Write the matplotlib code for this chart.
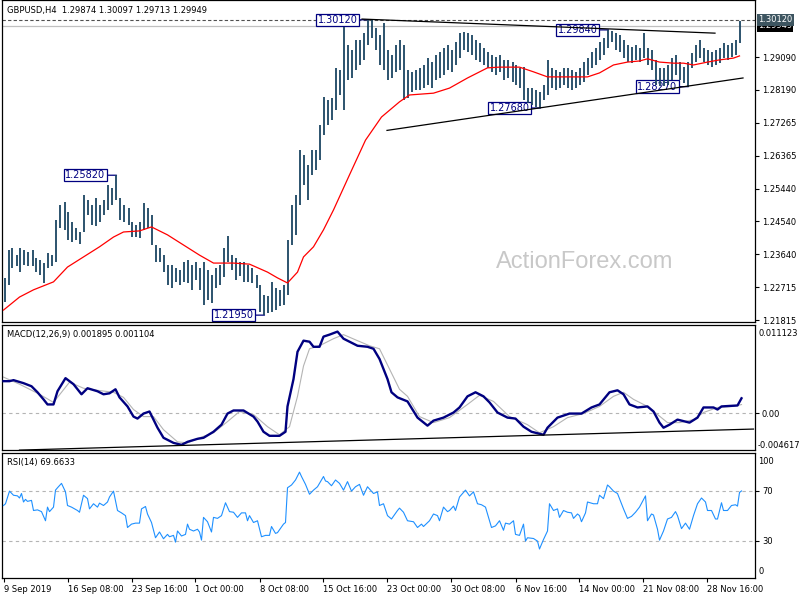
import numpy as np
import matplotlib
matplotlib.use('Agg')
import matplotlib.pyplot as plt
from matplotlib.transforms import blended_transform_factory

plt.rcParams['font.family'] = 'DejaVu Sans'

# price bars, one entry per two H4 candles (8 hours), starting 9 Sep 2019 00:00
bar_hi = [1.2298, 1.2375, 1.2381, 1.2361, 1.2381, 1.2375, 1.2370, 1.2375, 1.2353, 1.2348,
          1.2339, 1.2367, 1.2361, 1.2458, 1.2500, 1.2508, 1.2480, 1.2453, 1.2436, 1.2425,
          1.2527, 1.2514, 1.2500, 1.2519, 1.2500, 1.2514, 1.2555, 1.2547, 1.2582, 1.2519,
          1.2500, 1.2491, 1.2453, 1.2444, 1.2453, 1.2505, 1.2491, 1.2472, 1.2389, 1.2381,
          1.2361, 1.2334, 1.2334, 1.2325, 1.2320, 1.2342, 1.2348, 1.2334, 1.2342, 1.2325,
          1.2342, 1.2320, 1.2306, 1.2325, 1.2334, 1.2381, 1.2414, 1.2361, 1.2353, 1.2342,
          1.2342, 1.2334, 1.2325, 1.2306, 1.2278, 1.2251, 1.2248, 1.2287, 1.2270, 1.2265,
          1.2278, 1.2403, 1.2500, 1.2527, 1.2652, 1.2638, 1.2610, 1.2652, 1.2652, 1.2721,
          1.2798, 1.2790, 1.2796, 1.2879, 1.2873, 1.2992, 1.2942, 1.2928, 1.2956, 1.2956,
          1.2975, 1.3012, 1.3011, 1.2989, 1.2970, 1.3003, 1.2928, 1.2915, 1.2942, 1.2956,
          1.2942, 1.2873, 1.2868, 1.2873, 1.2879, 1.2887, 1.2906, 1.2895, 1.2915, 1.2923,
          1.2934, 1.2942, 1.2928, 1.2951, 1.2975, 1.2978, 1.2975, 1.2970, 1.2956, 1.2948,
          1.2934, 1.2923, 1.2915, 1.2909, 1.2915, 1.2901, 1.2901, 1.2895, 1.2887, 1.2879,
          1.2881, 1.2823, 1.2823, 1.2818, 1.2812, 1.2831, 1.2901, 1.2879, 1.2873, 1.2868,
          1.2879, 1.2879, 1.2873, 1.2868, 1.2879, 1.2895, 1.2906, 1.2923, 1.2934, 1.2951,
          1.2962, 1.2984, 1.2980, 1.2975, 1.2970, 1.2956, 1.2942, 1.2937, 1.2942, 1.2934,
          1.2975, 1.2934, 1.2928, 1.2901, 1.2879, 1.2879, 1.2887, 1.2906, 1.2915, 1.2895,
          1.2881, 1.2895, 1.2920, 1.2942, 1.2956, 1.2934, 1.2928, 1.2923, 1.2928, 1.2934,
          1.2948, 1.2942, 1.2948, 1.2956, 1.30097]
bar_lo = [1.2231, 1.2278, 1.2325, 1.2331, 1.2314, 1.2334, 1.2331, 1.2331, 1.2314, 1.2306,
          1.2284, 1.2325, 1.2331, 1.2342, 1.2436, 1.2431, 1.2403, 1.2397, 1.2403, 1.2392,
          1.2425, 1.2472, 1.2444, 1.2442, 1.2453, 1.2472, 1.2486, 1.2500, 1.2514, 1.2458,
          1.2453, 1.2444, 1.2411, 1.2411, 1.2409, 1.2431, 1.2436, 1.2389, 1.2342, 1.2342,
          1.2314, 1.2278, 1.2270, 1.2287, 1.2278, 1.2287, 1.2284, 1.2265, 1.2292, 1.2265,
          1.2223, 1.2237, 1.2229, 1.2270, 1.2278, 1.2301, 1.2342, 1.2320, 1.2292, 1.2303,
          1.2287, 1.2287, 1.2284, 1.2270, 1.2204, 1.2195, 1.2201, 1.2204, 1.2209, 1.2220,
          1.2223, 1.2251, 1.2389, 1.2417, 1.2500, 1.2555, 1.2514, 1.2583, 1.2596, 1.2624,
          1.2693, 1.2721, 1.2735, 1.2762, 1.2804, 1.2762, 1.2845, 1.2851, 1.2873, 1.2887,
          1.2901, 1.2942, 1.2962, 1.2928, 1.2887, 1.2873, 1.2845, 1.2851, 1.2868, 1.2873,
          1.2790, 1.2796, 1.2812, 1.2818, 1.2818, 1.2823, 1.2831, 1.2823, 1.2845, 1.2851,
          1.2859, 1.2873, 1.2868, 1.2887, 1.2906, 1.2928, 1.2923, 1.2915, 1.2901, 1.2895,
          1.2887, 1.2879, 1.2868, 1.2859, 1.2868, 1.2845, 1.2851, 1.2840, 1.2831, 1.2823,
          1.2790, 1.2782, 1.2776, 1.2771, 1.2768, 1.2790, 1.2804, 1.2823, 1.2818, 1.2823,
          1.2831, 1.2823, 1.2818, 1.2823, 1.2831, 1.2840, 1.2859, 1.2879, 1.2887, 1.2901,
          1.2915, 1.2934, 1.2951, 1.2928, 1.2923, 1.2906, 1.2895, 1.2892, 1.2901, 1.2895,
          1.2906, 1.2887, 1.2873, 1.2831, 1.2829, 1.2829, 1.2831, 1.2845, 1.2859, 1.2845,
          1.2837, 1.2827, 1.2879, 1.2895, 1.2906, 1.2895, 1.2887, 1.2881, 1.2887, 1.2892,
          1.2906, 1.2901, 1.2909, 1.2915, 1.2948]

# moving average (red), H4 bar index -> value
ma_idx = [0, 8, 15, 20, 25, 32, 40, 48, 55, 60, 68, 74, 82, 90, 98, 105, 115, 123, 132,
          137, 142, 147, 150, 155, 160, 165, 173, 181, 189, 198, 203, 215, 223, 232, 242,
          248, 258, 265, 272, 282, 292, 298, 305, 312, 318, 322, 328, 335, 340, 345, 352,
          358, 365, 368]
ma_val = [1.2209, 1.2245, 1.2265, 1.2276, 1.2287, 1.2328, 1.2356, 1.2384, 1.2411, 1.2425,
          1.2428, 1.2439, 1.2417, 1.2389, 1.2361, 1.2339, 1.2339, 1.2336, 1.2314, 1.2298,
          1.2284, 1.2314, 1.2356, 1.2384, 1.2431, 1.2486, 1.2583, 1.2679, 1.2743, 1.2785,
          1.2804, 1.2809, 1.2823, 1.2851, 1.2879, 1.2881, 1.2881, 1.2868, 1.2854, 1.2854,
          1.2854, 1.2865, 1.2887, 1.2895, 1.2898, 1.2904, 1.2895, 1.2892, 1.2892, 1.2887,
          1.2895, 1.2901, 1.2906, 1.2912]

# MACD(12,26,9) main line and signal
macd_idx = [0, 3, 5, 10, 14, 17, 20, 22, 25, 27, 31, 35, 39, 42, 47, 50, 53, 56, 58, 62,
            65, 67, 70, 73, 75, 77, 80, 85, 89, 92, 97, 100, 105, 109, 112, 115, 120, 125,
            127, 130, 133, 138, 141, 142, 145, 147, 150, 153, 155, 158, 160, 163, 167, 170,
            173, 177, 182, 185, 188, 192, 194, 197, 202, 207, 212, 215, 220, 225, 228, 232,
            236, 240, 243, 247, 252, 256, 260, 264, 270, 272, 277, 283, 289, 294, 298, 303,
            307, 310, 313, 317, 322, 325, 328, 330, 333, 337, 343, 347, 350, 355, 357, 359,
            367, 369]
macd_val = [0.00405, 0.00405, 0.00418, 0.00380, 0.00341, 0.00265, 0.00176, 0.00112, 0.00112,
            0.00278, 0.00443, 0.00367, 0.00240, 0.00316, 0.00278, 0.00240, 0.00252, 0.00303,
            0.00201, 0.00087, -0.00041, -0.00066, -0.00003, 0.00023, -0.00079, -0.00181,
            -0.00308, -0.00372, -0.00397, -0.00359, -0.00321, -0.00308, -0.00232, -0.00143,
            -0.00003, 0.00036, 0.00036, -0.00041, -0.00104, -0.00232, -0.00283, -0.00283,
            -0.00232, 0.00087, 0.00431, 0.00775, 0.00915, 0.00902, 0.00838, 0.00838, 0.00966,
            0.00991, 0.01029, 0.00940, 0.00902, 0.00851, 0.00838, 0.00813, 0.00685, 0.00431,
            0.00265, 0.00201, 0.00150, -0.00054, -0.00155, -0.00092, -0.00054, 0.00010,
            0.00074, 0.00214, 0.00265, 0.00214, 0.00138, 0.00010, -0.00054, -0.00066, -0.00168,
            -0.00232, -0.00270, -0.00181, -0.00054, -0.00003, -0.00003, 0.00074, 0.00112,
            0.00265, 0.00290, 0.00240, 0.00112, 0.00074, 0.00087, 0.00023, -0.00117, -0.00181,
            -0.00143, -0.00079, -0.00117, -0.00054, 0.00074, 0.00074, 0.00048, 0.00087,
            0.00099, 0.001895]
sig_idx = [0, 8, 18, 25, 29, 33, 40, 47, 55, 60, 65, 70, 75, 80, 87, 92, 98, 105, 112, 118,
           125, 132, 138, 143, 147, 150, 153, 158, 165, 170, 177, 183, 188, 193, 198, 202,
           208, 215, 223, 232, 238, 245, 253, 262, 268, 275, 282, 290, 298, 305, 310, 315,
           322, 327, 332, 338, 345, 350, 357, 365, 369]
sig_val = [0.00456, 0.00367, 0.00240, 0.00138, 0.00265, 0.00392, 0.00316, 0.00290, 0.00265,
           0.00201, 0.00048, -0.00041, -0.00041, -0.00206, -0.00359, -0.00372, -0.00308,
           -0.00245, -0.00104, 0.00023, -0.00015, -0.00168, -0.00270, -0.00168, 0.00214,
           0.00596, 0.00813, 0.00851, 0.00940, 0.00991, 0.00915, 0.00851, 0.00813, 0.00558,
           0.00303, 0.00214, -0.00041, -0.00117, -0.00054, 0.00112, 0.00227, 0.00150,
           -0.00041, -0.00143, -0.00245, -0.00168, -0.00054, -0.00003, 0.00087, 0.00214,
           0.00265, 0.00176, 0.00087, -0.00015, -0.00117, -0.00117, -0.00079, 0.00010,
           0.00074, 0.00087, 0.001104]

# RSI(14)
rsi_idx = [0, 1, 3, 5, 7, 8, 9, 10, 11, 12, 14, 15, 17, 19, 21, 22, 23, 25, 26, 27, 29, 31,
           32, 34, 37, 38, 40, 42, 43, 45, 47, 48, 50, 52, 53, 55, 57, 59, 61, 62, 64, 66, 68,
           69, 71, 72, 74, 76, 78, 80, 82, 83, 85, 86, 87, 89, 91, 92, 93, 95, 97, 98, 99,
           100, 102, 104, 105, 107, 109, 111, 113, 115, 117, 119, 121, 122, 123, 125, 127,
           129, 131, 133, 134, 136, 137, 140, 141, 142, 144, 146, 148, 149, 151, 153, 155,
           157, 160, 161, 162, 164, 166, 168, 170, 172, 174, 176, 178, 180, 182, 185, 187,
           188, 190, 192, 194, 197, 198, 200, 202, 205, 207, 209, 210, 213, 215, 217, 218,
           220, 222, 223, 225, 226, 228, 231, 233, 235, 237, 239, 241, 244, 246, 248, 250,
           251, 253, 255, 256, 258, 260, 261, 262, 265, 267, 268, 270, 272, 273, 275, 277,
           278, 280, 282, 284, 285, 287, 288, 289, 291, 292, 295, 297, 298, 300, 302, 303,
           305, 307, 310, 312, 314, 316, 318, 321, 322, 324, 325, 327, 328, 330, 332, 334,
           336, 337, 339, 341, 343, 345, 347, 349, 351, 352, 354, 356, 357, 359, 360, 362,
           364, 366, 367, 368, 369]
rsi_val = [58.0, 59.4, 69.5, 66.2, 65.7, 64.0, 67.6, 60.8, 62.9, 61.3, 62.1, 54.0, 54.5, 53.1,
           45.8, 56.7, 53.1, 56.7, 70.3, 72.2, 75.7, 68.9, 58.0, 56.7, 54.0, 52.6, 66.2, 63.5,
           55.3, 59.4, 56.7, 59.9, 58.0, 60.8, 64.8, 69.5, 54.0, 52.1, 49.9, 40.4, 43.1, 43.9,
           43.9, 55.3, 57.2, 51.2, 44.4, 32.2, 36.8, 31.4, 34.9, 33.0, 34.1, 28.7, 37.6, 33.6,
           34.9, 43.1, 39.0, 37.6, 39.0, 36.8, 30.3, 48.5, 45.0, 36.8, 48.5, 47.7, 49.9, 60.2,
           53.1, 52.6, 48.5, 52.1, 52.1, 45.8, 49.9, 44.4, 45.8, 33.0, 34.1, 34.1, 41.2, 35.7,
           36.3, 43.1, 44.4, 72.2, 74.4, 78.4, 84.7, 81.2, 74.9, 67.0, 70.3, 73.0, 81.2, 77.6,
           77.1, 73.8, 78.4, 75.7, 70.3, 77.1, 69.5, 73.0, 74.9, 66.2, 73.0, 67.6, 68.9, 58.0,
           59.4, 49.9, 47.2, 54.0, 55.9, 52.6, 45.8, 45.0, 40.4, 43.1, 41.2, 45.8, 51.2, 49.9,
           45.8, 56.7, 53.1, 54.0, 57.5, 54.0, 64.8, 70.3, 65.7, 68.9, 59.4, 58.6, 56.7, 40.4,
           41.7, 45.8, 38.2, 43.9, 43.1, 45.8, 34.9, 34.1, 43.1, 29.5, 32.2, 31.6, 29.5, 23.2,
           30.8, 37.6, 59.4, 54.0, 55.3, 48.5, 54.0, 52.6, 52.1, 47.7, 51.2, 49.9, 45.0, 52.1,
           60.8, 59.4, 59.4, 66.2, 63.5, 74.4, 73.0, 69.5, 67.6, 55.3, 47.7, 49.3, 52.6, 56.7,
           65.7, 45.8, 51.2, 50.4, 39.0, 30.3, 37.6, 47.2, 48.5, 53.1, 49.9, 39.5, 43.9, 39.0,
           49.9, 59.4, 64.0, 60.8, 54.0, 54.0, 47.2, 47.2, 60.2, 54.0, 54.0, 58.0, 58.6, 57.5,
           68.4, 69.66]

# swing labels: H4 bar index of the extreme, price
swing_idx = [182.5, 56.5, 130.5, 268.5, 302.5, 342.5]
swing_px = [1.30120, 1.25820, 1.21950, 1.27680, 1.29840, 1.28270]

# trendlines (H4 index, value)
upper_tl = ([179.25, 355.75], [1.3014, 1.2975])
lower_tl = ([191.75, 369.75], [1.2706, 1.2851])
macd_tl = ([8.0, 375.0], [-0.00463, -0.00198])

price_ticks = [1.29090, 1.28190, 1.27265, 1.26365, 1.25440, 1.24540, 1.23640, 1.22715, 1.21815]
high_line = 1.30120
bid = 1.29949
last_rsi = 69.6633

x_tick_idx = [0, 32, 64, 96, 128, 160, 192, 224, 256, 288, 320, 352]
x_tick_lab = ['9 Sep 2019', '16 Sep 08:00', '23 Sep 16:00', '1 Oct 00:00', '8 Oct 08:00',
              '15 Oct 16:00', '23 Oct 00:00', '30 Oct 08:00', '6 Nov 16:00', '14 Nov 00:00',
              '21 Nov 08:00', '28 Nov 16:00']

W, H = 800, 600
fig = plt.figure(figsize=(W / 100, H / 100), dpi=100)


def px_axes(x0, y0, x1, y1):
    return fig.add_axes([x0 / W, 1 - y1 / H, (x1 - x0) / W, (y1 - y0) / H])


ax_p = px_axes(2, 0, 755, 322)
ax_m = px_axes(2, 325, 755, 450)
ax_r = px_axes(2, 453, 755, 578)

for ax in (ax_p, ax_m, ax_r):
    ax.set_xlim(-0.75, 375.75)
    for s in ax.spines.values():
        s.set_linewidth(0.9)
        s.set_color('black')
    ax.yaxis.tick_right()
    ax.tick_params(axis='y', length=3, width=0.8, pad=2, labelsize=6, direction='out')
    ax.set_xticks([])

# ---- price panel
ax_p.set_ylim(1.2176, 1.30667)
ax_p.axhline(high_line, color='#505050', lw=0.8, ls=(0, (3, 2)), zorder=1)
ax_p.axhline(bid, color='#c0c0c0', lw=0.9, zorder=1)

bar_x = np.arange(len(bar_hi)) * 2 + 0.5
ax_p.vlines(bar_x, bar_lo, bar_hi, colors='#1b4562', lw=1.3, zorder=3)
ax_p.plot(ma_idx, ma_val, color='red', lw=0.9, zorder=4)
ax_p.plot(*upper_tl, color='black', lw=0.9, zorder=4)
ax_p.plot(*lower_tl, color='black', lw=0.9, zorder=4)

for idx, p in zip(swing_idx, swing_px):
    ax_p.annotate('%.5f' % p, xy=(idx, p), xytext=(-11, 0),
                  textcoords='offset pixels', ha='right', va='center', fontsize=7,
                  color='#000080', zorder=2,
                  bbox=dict(boxstyle='square,pad=0.12', fc='white', ec='#000080', lw=0.9),
                  arrowprops=dict(arrowstyle='-', color='#000080', lw=0.9,
                                  shrinkA=0, shrinkB=0))

ax_p.set_yticks(price_ticks)
ax_p.set_yticklabels(['%.5f' % v for v in price_ticks])
trans_p = blended_transform_factory(ax_p.transAxes, ax_p.transData)
ax_p.text(1.004, bid, '%.5f' % bid, transform=trans_p, fontsize=6, color='white',
          ha='left', va='center', clip_on=False,
          bbox=dict(boxstyle='square,pad=0.15', fc='black', ec='none'))
ax_p.text(1.004, high_line, '%.5f' % high_line, transform=trans_p, fontsize=6, color='white',
          ha='left', va='center', clip_on=False,
          bbox=dict(boxstyle='square,pad=0.15', fc='#3d5560', ec='none'))
ax_p.text(0.774, 0.186, 'ActionForex.com', transform=ax_p.transAxes, fontsize=17,
          family='Liberation Sans', color='#c8c8c8', ha='center', va='center', zorder=0)

# ---- MACD panel
ax_m.set_ylim(-0.004617, 0.011123)
ax_m.axhline(0, color='#b4b4b4', lw=0.8, ls=(0, (3, 3)), zorder=1)
ax_m.plot(sig_idx, sig_val, color='#b4b4b4', lw=0.8, zorder=2)
ax_m.plot(macd_idx, macd_val, color='#000080', lw=1.7, zorder=3)
ax_m.plot(*macd_tl, color='black', lw=0.9, zorder=4)
ax_m.set_yticks([0])
ax_m.set_yticklabels(['0.00'])
ax_m.text(1.004, 0.936, '0.011123', transform=ax_m.transAxes, fontsize=6, ha='left', va='center')
ax_m.text(1.004, 0.04, '-0.004617', transform=ax_m.transAxes, fontsize=6, ha='left', va='center')

# ---- RSI panel
ax_r.set_ylim(0, 100)
for lvl in (70, 30):
    ax_r.axhline(lvl, color='#b4b4b4', lw=0.8, ls=(0, (3, 3)), zorder=1)
ax_r.plot(rsi_idx, rsi_val, color='#1e90ff', lw=0.8, zorder=3)
ax_r.set_yticks([70, 30])
ax_r.set_yticklabels(['70', '30'])
ax_r.text(1.004, 0.936, '100', transform=ax_r.transAxes, fontsize=6, ha='left', va='center')
ax_r.text(1.004, 0.048, '0', transform=ax_r.transAxes, fontsize=6, ha='left', va='center')
ax_r.set_xticks(x_tick_idx)
ax_r.set_xticklabels(x_tick_lab, fontsize=6, ha='left')
ax_r.tick_params(axis='x', length=3, width=0.8, pad=2)

# ---- panel captions
fig.text(7 / W, 1 - 10.5 / H, 'GBPUSD,H4  1.29874 1.30097 1.29713 1.29949',
         fontsize=6, va='center')
fig.text(7 / W, 1 - 335 / H, 'MACD(12,26,9) %.6f %.6f' % (macd_val[-1], sig_val[-1]),
         fontsize=6, va='center')
fig.text(7 / W, 1 - 463 / H, 'RSI(14) %.4f' % last_rsi, fontsize=6, va='center')

fig.savefig('out.png', dpi=100, facecolor='white')
